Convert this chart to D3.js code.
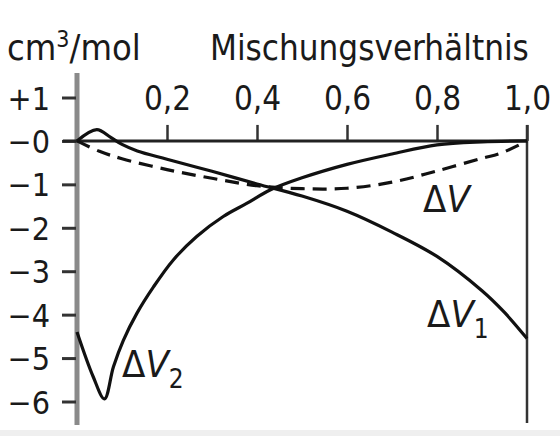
<!DOCTYPE html>
<html>
<head>
<meta charset="utf-8">
<script src="https://cdn.jsdelivr.net/npm/d3@7"></script>
<style>
  body { margin: 0; background: #fff; }
  svg text { font-family: 'Liberation Sans Narrow', 'DejaVu Sans Condensed', 'DejaVu Sans', sans-serif; font-stretch: condensed; fill: #1a1a1a; }
</style>
</head>
<body>
<div id="chart"></div>
<script>
// Data: mixing ratio (x) vs. volume change (cm3/mol)
var mixRatio1 = [0, 0.044, 0.075, 0.1, 0.134, 0.2, 0.3, 0.4, 0.5, 0.6, 0.7, 0.8, 0.9, 0.95, 1.0];
var deltaV1 = [0, 0.26, 0.08, -0.08, -0.23, -0.42, -0.70, -0.99, -1.27, -1.62, -2.10, -2.66, -3.45, -3.95, -4.55];

var mixRatio2 = [0, 0.036, 0.061, 0.081, 0.103, 0.133, 0.17, 0.214, 0.266, 0.325, 0.377, 0.429, 0.5, 0.6, 0.7, 0.8, 0.9, 1.0];
var deltaV2 = [-4.40, -5.43, -5.94, -5.20, -4.59, -3.97, -3.36, -2.74, -2.20, -1.74, -1.44, -1.13, -0.85, -0.54, -0.30, -0.09, -0.02, 0];

var mixRatio = [0, 0.05, 0.1, 0.2, 0.3, 0.4, 0.5, 0.6, 0.7, 0.8, 0.9, 0.94, 1.0];
var deltaV = [0, -0.24, -0.41, -0.66, -0.86, -1.03, -1.10, -1.09, -0.95, -0.69, -0.40, -0.29, 0];

var xTicks = [0.2, 0.4, 0.6, 0.8, 1.0];
var yTicks = [1, 0, -1, -2, -3, -4, -5, -6];

var width = 560, height = 436;
var margin = {top: 97.5, left: 77};
var plotW = 450, plotH = 304;

var svg = d3.select('#chart').append('svg')
  .attr('width', width)
  .attr('height', height);

// light scan band along the bottom edge
svg.append('rect')
  .attr('x', 0).attr('y', 430)
  .attr('width', width).attr('height', 6)
  .attr('fill', '#efefef');

var x = d3.scaleLinear().domain([0, 1]).range([margin.left, margin.left + plotW]);
var y = d3.scaleLinear().domain([-6, 1]).range([margin.top + plotH, margin.top]);

// Left axis (gray bar)
svg.append('line')
  .attr('x1', x(0)).attr('x2', x(0))
  .attr('y1', 73).attr('y2', 425)
  .attr('stroke', '#8a8a8a')
  .attr('stroke-width', 5);

var yAxis = d3.axisLeft(y)
  .tickValues(yTicks)
  .tickSize(14)
  .tickPadding(12)
  .tickFormat(function(d) {
    if (d > 0) { return '+' + d; }
    return '\u2212' + Math.abs(d);
  });

var gy = svg.append('g')
  .attr('transform', 'translate(' + (x(0) - 1) + ',0)')
  .call(yAxis);
gy.select('.domain').remove();
gy.selectAll('.tick line').attr('stroke', '#333').attr('stroke-width', 3);
gy.selectAll('.tick text')
  .attr('font-size', 32)
  .attr('dy', '0.36em');

// Top axis along the zero line
var xAxis = d3.axisTop(x)
  .tickValues(xTicks)
  .tickSize(16)
  .tickPadding(15)
  .tickFormat(function(d) { return d3.format('.1f')(d).replace('.', ','); });

var gx = svg.append('g')
  .attr('transform', 'translate(0,' + y(0) + ')')
  .call(xAxis);
gx.select('.domain').remove();
gx.selectAll('.tick line').attr('stroke', '#333').attr('stroke-width', 2.5);
gx.selectAll('.tick text')
  .attr('font-size', 33)
  .attr('dy', '0');

// zero line
svg.append('line')
  .attr('x1', 63).attr('x2', x(1))
  .attr('y1', y(0)).attr('y2', y(0))
  .attr('stroke', '#222')
  .attr('stroke-width', 3);

// right border at x = 1
svg.append('line')
  .attr('x1', x(1)).attr('x2', x(1))
  .attr('y1', 125).attr('y2', 423)
  .attr('stroke', '#333')
  .attr('stroke-width', 2.5);

// Curves
var line = d3.line()
  .x(function(d) { return x(d[0]); })
  .y(function(d) { return y(d[1]); })
  .curve(d3.curveCatmullRom.alpha(0.5));

function zipSeries(xs, vs) {
  return xs.map(function(v, i) { return [v, vs[i]]; });
}

svg.append('path')
  .attr('d', line(zipSeries(mixRatio, deltaV)))
  .attr('fill', 'none')
  .attr('stroke', '#111')
  .attr('stroke-width', 3.2)
  .attr('stroke-dasharray', '14,8');

svg.append('path')
  .attr('d', line(zipSeries(mixRatio1, deltaV1)))
  .attr('fill', 'none')
  .attr('stroke', '#111')
  .attr('stroke-width', 3.2);

svg.append('path')
  .attr('d', line(zipSeries(mixRatio2, deltaV2)))
  .attr('fill', 'none')
  .attr('stroke', '#111')
  .attr('stroke-width', 3.2);

// Titles
var unit = svg.append('text')
  .attr('x', 7).attr('y', 60)
  .attr('font-size', 36);
unit.append('tspan').text('cm');
unit.append('tspan').attr('font-size', 23).attr('dy', -13).text('3');
unit.append('tspan').attr('dy', 13).text('/mol');

svg.append('text')
  .attr('x', 210).attr('y', 60)
  .attr('font-size', 34.7)
  .text('Mischungsverh\u00e4ltnis');

// Curve labels
function curveLabel(px, py, sub) {
  var t = svg.append('text')
    .attr('x', px).attr('y', py)
    .attr('font-size', 38);
  t.append('tspan').text('\u0394');
  t.append('tspan').attr('font-style', 'italic').text('V');
  if (sub) {
    t.append('tspan').attr('font-size', 26).attr('dy', 11).text(sub);
  }
}
curveLabel(423, 212, null);
curveLabel(427, 327, '1');
curveLabel(122, 377, '2');
</script>
</body>
</html>
